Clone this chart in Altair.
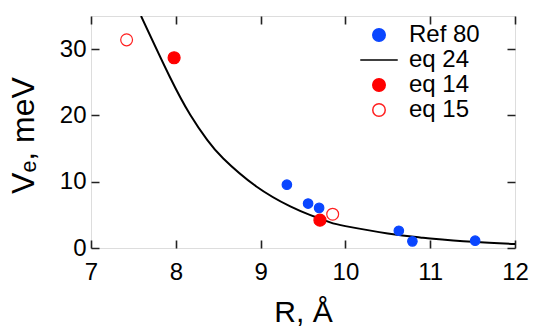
import altair as alt
import pandas as pd

# ---- data ----
series_order = ["Ref 80", "eq 24", "eq 14", "eq 15"]

ref80_r = [9.31, 9.56, 9.69, 10.63, 10.79, 11.53]
ref80_v = [9.55, 6.7, 6.05, 2.6, 1.0, 1.1]

eq14_r = [7.98, 9.70]
eq14_v = [28.7, 4.2]

eq15_r = [7.42, 9.85]
eq15_v = [31.4, 5.1]

eq24_r = [7.59, 7.93, 8.17, 8.37, 8.56, 8.95, 9.35, 9.58, 9.82, 10.0, 10.5, 10.88, 11.0, 11.5, 12.0]
eq24_v = [35.0, 25.8, 20.1, 16.3, 13.5, 9.28, 6.27, 5.0, 3.86, 3.3, 2.2, 1.6, 1.45, 0.95, 0.6]

x_labels = [7, 8, 9, 10, 11, 12]
y_labels = [0, 10, 20, 30]

FONT = "Liberation Sans"
TICK = "#222222"
W, H, TL = 424, 232, 8  # plot size and inward tick length (pixels)

def frame(r, v, s):
    return pd.DataFrame({"R": r, "V": v, "series": [s] * len(r)})

blue = frame(ref80_r, ref80_v, "Ref 80")
red = frame(eq14_r, eq14_v, "eq 14")
openred = frame(eq15_r, eq15_v, "eq 15")
curve = pd.DataFrame({"R": eq24_r, "V": eq24_v})

xscale = alt.Scale(domain=[7, 12], nice=False, zero=False)
yscale = alt.Scale(domain=[0, 35], nice=False)

# inward ticks on all four sides come from the grid, dashed so only both ends show
xaxis = alt.Axis(orient="bottom", values=x_labels, format="d", ticks=False, domain=False,
                 grid=True, gridDash=[TL, H - 2 * TL, TL], gridColor=TICK, gridWidth=1.6,
                 gridOpacity=1,
                 labelFont=FONT, labelFontSize=24, labelColor="black",
                 labelBaseline="alphabetic", labelPadding=31,
                 title="R, Å", titleFont=FONT, titleFontSize=30, titleFontWeight="normal",
                 titleColor="black", titleBaseline="alphabetic", titleY=73,
                 labelOverlap=False, labelFlush=False)
yaxis = alt.Axis(orient="left", values=y_labels, format="d", ticks=False, domain=False,
                 grid=True, gridDash=[TL, W - 2 * TL, TL], gridColor=TICK, gridWidth=1.6,
                 gridOpacity=1,
                 labelFont=FONT, labelFontSize=24, labelColor="black",
                 labelPadding=5, labelBaseline="middle",
                 title="Vₑ,  meV", titleFont=FONT, titleFontSize=32, titleFontWeight="normal",
                 titleColor="black", titleAngle=270, titleAlign="center",
                 titleBaseline="alphabetic", titleX=-58, titleY=119,
                 labelOverlap=False, labelFlush=False)

leg = alt.Legend(title=None, orient="none", legendX=276, legendY=7,
                 labelFont=FONT, labelFontSize=24, labelColor="black",
                 labelOffset=18, rowPadding=1, symbolSize=156,
                 symbolStrokeWidth=1.5)

shape_sc = alt.Scale(domain=series_order, range=["circle", "M-3,0H3", "circle", "circle"])
fill_sc = alt.Scale(domain=series_order, range=["#0a46ff", "transparent", "#ff0000", "transparent"])
stroke_sc = alt.Scale(domain=series_order, range=["#0a46ff", "black", "#ff0000", "#ff2020"])

def point_layer(df, size):
    return alt.Chart(df).mark_point(opacity=1, strokeWidth=1.2, size=size).encode(
        x=alt.X("R:Q", scale=xscale),
        y=alt.Y("V:Q", scale=yscale),
        shape=alt.Shape("series:N", scale=shape_sc, legend=leg),
        fill=alt.Fill("series:N", scale=fill_sc, legend=leg),
        stroke=alt.Stroke("series:N", scale=stroke_sc, legend=leg),
    )

line = alt.Chart(curve).mark_line(color="black", strokeWidth=2, clip=True,
                                  interpolate="natural").encode(
    x=alt.X("R:Q", scale=xscale, axis=xaxis),
    y=alt.Y("V:Q", scale=yscale, axis=yaxis),
)

chart = alt.layer(
    line,
    point_layer(blue, 90), point_layer(red, 144), point_layer(openred, 140),
).properties(
    width=W, height=H,
    autosize=alt.AutoSizeParams(type="none"),
    padding={"left": 91, "top": 16, "right": 18, "bottom": 80},
).configure_view(stroke="#4a4a4a", strokeWidth=1.8).configure(background="white")

chart.save("out.html", embed_options={"renderer": "svg", "actions": False})
